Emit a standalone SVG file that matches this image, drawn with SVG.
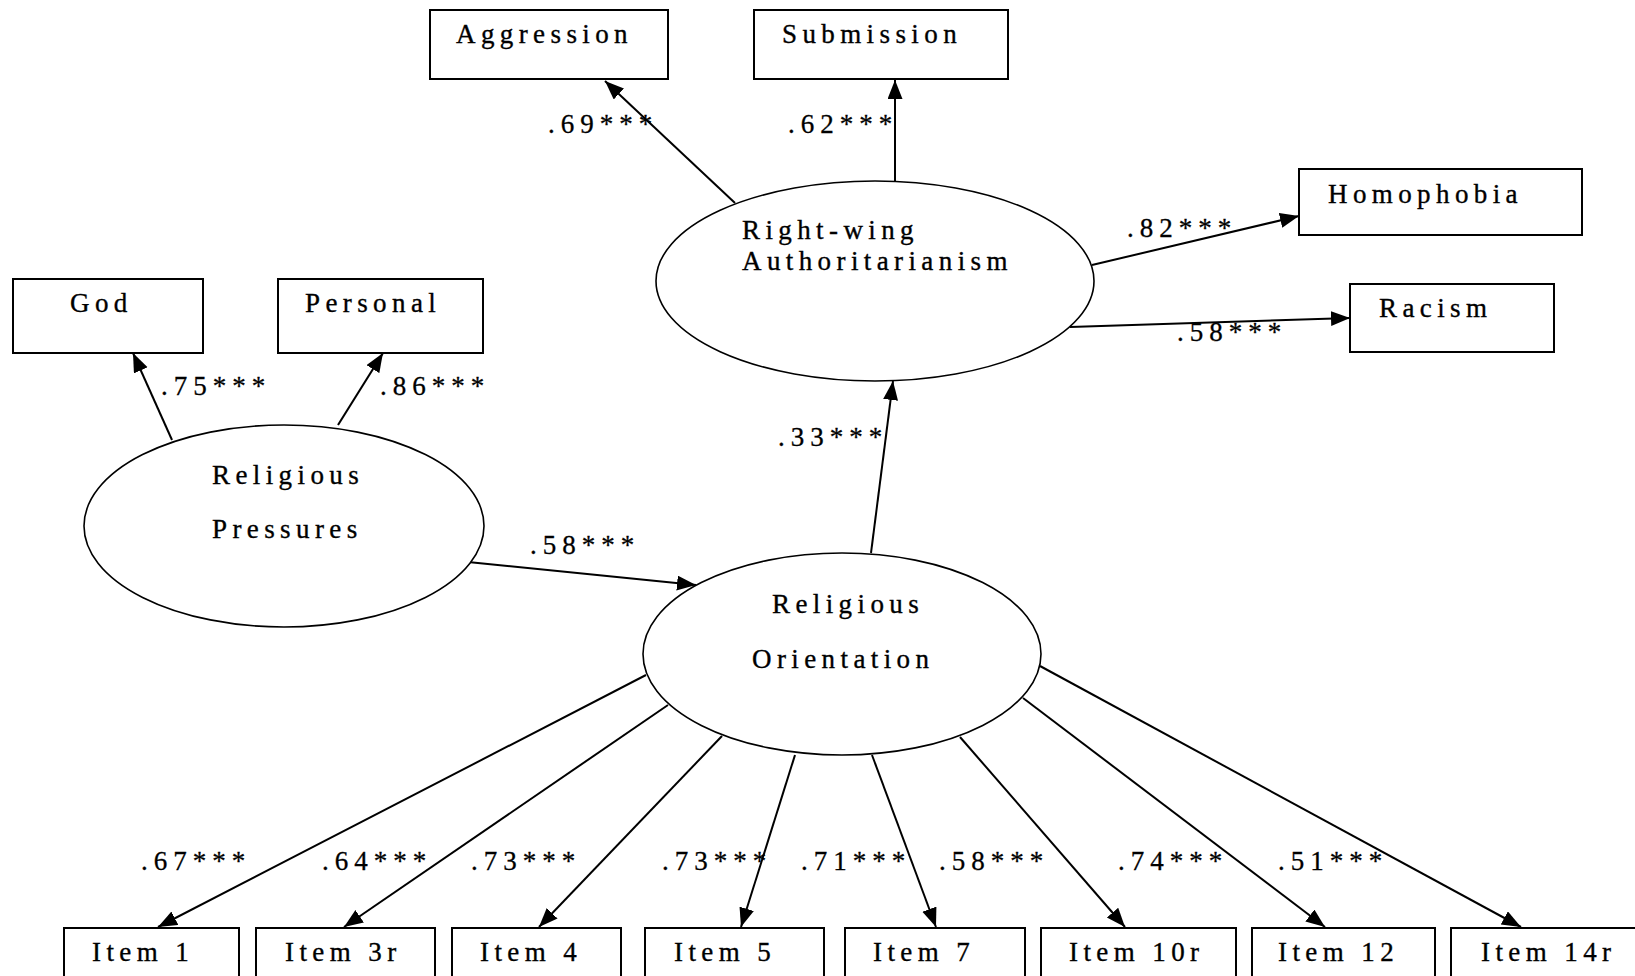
<svg xmlns="http://www.w3.org/2000/svg" width="1635" height="976" viewBox="0 0 1635 976">
<style>
  .box { fill: #fff; stroke: #000; stroke-width: 2; }
  .lat { fill: #fff; stroke: #000; stroke-width: 1.6; }
  .t { font-family: "Liberation Serif", "Times New Roman", serif; font-size: 27px; letter-spacing: 5.4px; fill: #000; stroke: #000; stroke-width: 0.35; }
  .lbl { font-family: "Liberation Serif", "Times New Roman", serif; font-size: 27px; letter-spacing: 6px; fill: #000; stroke: #000; stroke-width: 0.3; }
  .c { stroke: #000; stroke-width: 2; fill: none; marker-end: url(#ah); }
</style>
<defs>
  <marker id="ah" markerUnits="userSpaceOnUse" markerWidth="20" markerHeight="16" refX="19" refY="7.5" orient="auto">
    <path d="M0,0 L19,7.5 L0,15 z" fill="#000"/>
  </marker>
</defs>
<rect width="1635" height="976" fill="#fff"/>

<g id="connectors">
  <line class="c" x1="735" y1="203" x2="605" y2="81"/>
  <line class="c" x1="895" y1="181" x2="895" y2="80"/>
  <line class="c" x1="1092" y1="265" x2="1299" y2="216"/>
  <line class="c" x1="1070" y1="327" x2="1350" y2="318"/>
  <line class="c" x1="172" y1="440" x2="133" y2="353"/>
  <line class="c" x1="338" y1="425" x2="383" y2="353"/>
  <line class="c" x1="468" y1="562" x2="696" y2="585"/>
  <line class="c" x1="871" y1="553" x2="893" y2="381"/>
  <line class="c" x1="646" y1="675" x2="158" y2="927"/>
  <line class="c" x1="668" y1="705" x2="344" y2="927"/>
  <line class="c" x1="722" y1="736" x2="539" y2="927"/>
  <line class="c" x1="795" y1="755" x2="741" y2="927"/>
  <line class="c" x1="872" y1="755" x2="936" y2="927"/>
  <line class="c" x1="960" y1="737" x2="1125" y2="927"/>
  <line class="c" x1="1023" y1="698" x2="1325" y2="927"/>
  <line class="c" x1="1040" y1="666" x2="1521" y2="927"/>
</g>

<g id="labels">
  <text class="lbl" x="548" y="133">.69***</text>
  <text class="lbl" x="788" y="133">.62***</text>
  <text class="lbl" x="1127" y="237">.82***</text>
  <text class="lbl" x="1177" y="341">.58***</text>
  <text class="lbl" x="161" y="395">.75***</text>
  <text class="lbl" x="380" y="395">.86***</text>
  <text class="lbl" x="530" y="554">.58***</text>
  <text class="lbl" x="778" y="446">.33***</text>
  <text class="lbl" x="141" y="870">.67***</text>
  <text class="lbl" x="322" y="870">.64***</text>
  <text class="lbl" x="471" y="870">.73***</text>
  <text class="lbl" x="662" y="870">.73***</text>
  <text class="lbl" x="801" y="870">.71***</text>
  <text class="lbl" x="939" y="870">.58***</text>
  <text class="lbl" x="1118" y="870">.74***</text>
  <text class="lbl" x="1278" y="870">.51***</text>
</g>

<g id="aggression"><rect class="box" x="430" y="10" width="238" height="69"/><text class="t" x="456" y="43">Aggression</text></g>
<g id="submission"><rect class="box" x="754" y="10" width="254" height="69"/><text class="t" x="782" y="43">Submission</text></g>
<g id="homophobia"><rect class="box" x="1299" y="169" width="283" height="66"/><text class="t" x="1328" y="203">Homophobia</text></g>
<g id="racism"><rect class="box" x="1350" y="284" width="204" height="68"/><text class="t" x="1379" y="317">Racism</text></g>
<g id="god"><rect class="box" x="13" y="279" width="190" height="74"/><text class="t" x="70" y="312">God</text></g>
<g id="personal"><rect class="box" x="278" y="279" width="205" height="74"/><text class="t" x="305" y="312">Personal</text></g>

<g id="rwa"><ellipse class="lat" cx="875" cy="281" rx="219" ry="100"/>
  <text class="t" x="742" y="239">Right-wing</text>
  <text class="t" x="742" y="270">Authoritarianism</text></g>
<g id="religious-pressures"><ellipse class="lat" cx="284" cy="526" rx="200" ry="101"/>
  <text class="t" x="212" y="484">Religious</text>
  <text class="t" x="212" y="538">Pressures</text></g>
<g id="religious-orientation"><ellipse class="lat" cx="842" cy="654" rx="199" ry="101"/>
  <text class="t" x="772" y="613">Religious</text>
  <text class="t" x="752" y="668">Orientation</text></g>

<g id="item1"><rect class="box" x="64" y="928" width="175" height="70"/><text class="t" x="92" y="961">Item 1</text></g>
<g id="item3r"><rect class="box" x="256" y="928" width="179" height="70"/><text class="t" x="285" y="961">Item 3r</text></g>
<g id="item4"><rect class="box" x="452" y="928" width="169" height="70"/><text class="t" x="480" y="961">Item 4</text></g>
<g id="item5"><rect class="box" x="645" y="928" width="179" height="70"/><text class="t" x="674" y="961">Item 5</text></g>
<g id="item7"><rect class="box" x="845" y="928" width="180" height="70"/><text class="t" x="873" y="961">Item 7</text></g>
<g id="item10r"><rect class="box" x="1041" y="928" width="195" height="70"/><text class="t" x="1069" y="961">Item 10r</text></g>
<g id="item12"><rect class="box" x="1252" y="928" width="183" height="70"/><text class="t" x="1278" y="961">Item 12</text></g>
<g id="item14r"><rect class="box" x="1451" y="928" width="200" height="70"/><text class="t" x="1481" y="961">Item 14r</text></g>
</svg>
